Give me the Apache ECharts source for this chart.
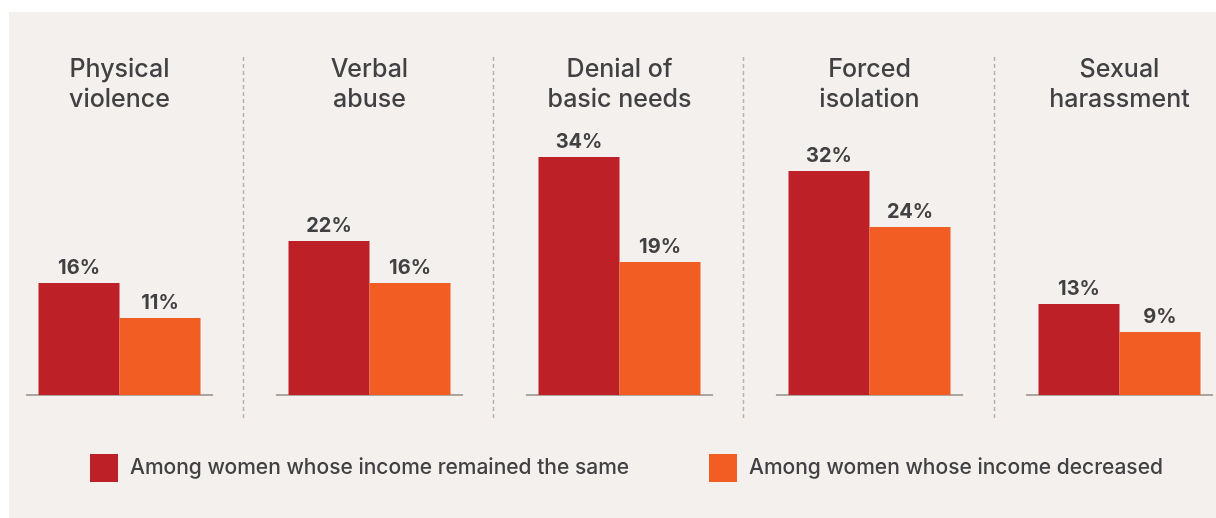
<!DOCTYPE html>
<html>
<head>
<meta charset="utf-8">
<script src="https://cdn.jsdelivr.net/npm/echarts@6/dist/echarts.min.js"></script>
<style>
  html, body { margin: 0; padding: 0; background: #ffffff; }
  #chart { width: 1216px; height: 518px; }
</style>
</head>
<body>
<div id="chart"></div>
<script>
// Forms of violence reported, by change in the woman's income
const categories = [
  'Physical\nviolence',
  'Verbal\nabuse',
  'Denial of\nbasic needs',
  'Forced\nisolation',
  'Sexual\nharassment'
];
const seriesNames = [
  'Among women whose income remained the same',
  'Among women whose income decreased'
];
const incomeSame = [16, 22, 34, 32, 13];
const incomeDecreased = [11, 16, 19, 24, 9];

const colors = ['#bd2026', '#f15d22'];
const textColor = '#414042';
const fontFamily = 'Inter, "Open Sans", sans-serif';

// Panel geometry: one small grid per category
const panelStep = 250;
const firstCenter = 119.5;
const baseWidth = 186;
const baseY = 395;
const plotHeight = 280;

const grids = [], xAxes = [], yAxes = [], series = [], titles = [];

categories.forEach((name, i) => {
  const cx = firstCenter + panelStep * i;
  grids.push({
    left: cx - baseWidth / 2,
    width: baseWidth,
    top: baseY - plotHeight,
    height: plotHeight
  });
  xAxes.push({
    type: 'category',
    gridIndex: i,
    data: [name],
    axisLine: { show: true, lineStyle: { color: '#958a83', width: 1.5 } },
    axisTick: { show: false },
    axisLabel: { show: false }
  });
  yAxes.push({
    type: 'value',
    gridIndex: i,
    min: 0,
    max: 40,
    show: false,
    splitLine: { show: false }
  });
  [incomeSame, incomeDecreased].forEach((arr, s) => {
    series.push({
      type: 'bar',
      name: seriesNames[s],
      xAxisIndex: i,
      yAxisIndex: i,
      data: [arr[i]],
      barWidth: 81,
      barGap: '0%',
      itemStyle: { color: colors[s] },
      label: {
        show: true,
        position: 'top',
        distance: 5,
        formatter: '{c}%',
        color: textColor,
        fontFamily: fontFamily,
        fontWeight: 'bold',
        fontSize: 20
      }
    });
  });
  titles.push({
    text: name,
    left: cx,
    top: 54,
    padding: 0,
    textAlign: 'center',
    textStyle: {
      color: textColor,
      fontFamily: fontFamily,
      fontWeight: 500,
      fontSize: 25,
      lineHeight: 30
    }
  });
});

// Dotted dividers between the panels
const dividers = [243.5, 493.5, 743.5, 994.5].map(x => ({
  type: 'line',
  z: 1,
  shape: { x1: x, y1: 57, x2: x, y2: 421 },
  style: { stroke: '#bfaea2', lineWidth: 1.5, lineDash: [4, 3] }
}));

const legendBase = {
  top: 454,
  padding: 0,
  itemWidth: 28,
  itemHeight: 28,
  itemGap: 12,
  icon: 'rect',
  textStyle: {
    color: textColor,
    fontFamily: fontFamily,
    fontWeight: 500,
    fontSize: 21,
    padding: [0, 0, 0, 7]
  }
};

const chart = echarts.init(document.getElementById('chart'), null, { renderer: 'canvas' });
chart.setOption({
  backgroundColor: '#ffffff',
  animation: false,
  title: titles,
  grid: grids,
  xAxis: xAxes,
  yAxis: yAxes,
  series: series,
  legend: [
    Object.assign({}, legendBase, { left: 90, data: [seriesNames[0]] }),
    Object.assign({}, legendBase, { left: 709, data: [seriesNames[1]] })
  ],
  graphic: [
    {
      type: 'rect',
      z: -10,
      silent: true,
      shape: { x: 9, y: 12, width: 1207, height: 506 },
      style: { fill: '#f3f0ed' }
    }
  ].concat(dividers)
});
</script>
</body>
</html>
